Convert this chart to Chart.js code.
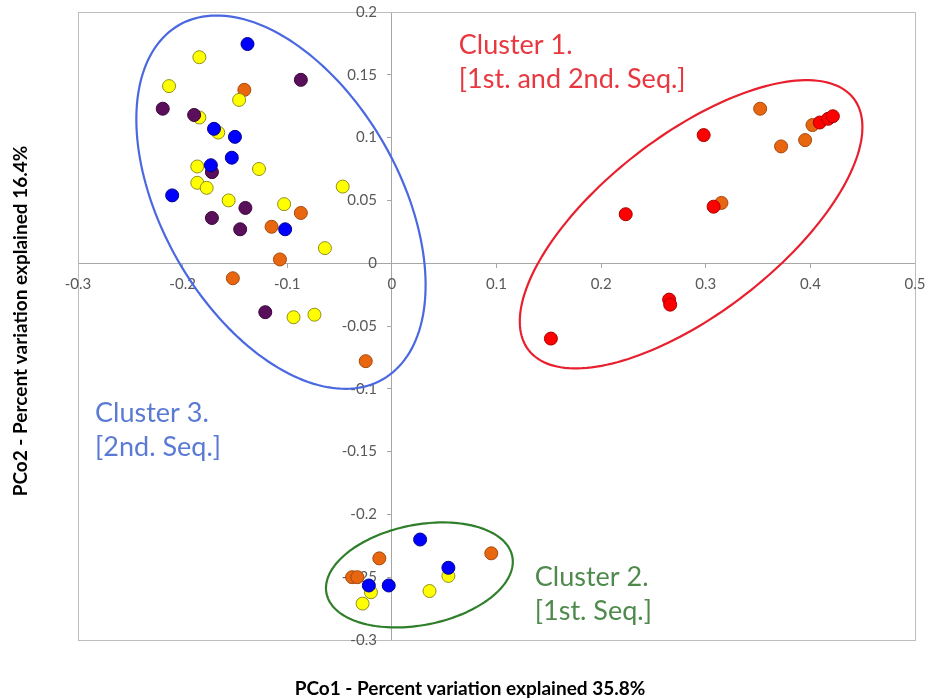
<!DOCTYPE html>
<html>
<head>
<meta charset="utf-8">
<script src="https://cdn.jsdelivr.net/npm/chart.js@4"></script>
<style>
  html, body { margin: 0; padding: 0; background: #ffffff; }
  #wrap { width: 928px; height: 700px; position: relative; }
</style>
</head>
<body>
<div id="wrap"><canvas id="pco"></canvas></div>
<script>
// PCoA scores (PCo1, PCo2) per sample group
const bluePts = [
  [-0.138, 0.1745], [-0.170, 0.107], [-0.150, 0.1006], [-0.153, 0.084],
  [-0.173, 0.078], [-0.210, 0.054], [-0.102, 0.027],
  [0.027, -0.220], [0.054, -0.2425], [-0.022, -0.2566], [-0.003, -0.2566]
];
const redPts = [
  [0.298, 0.102], [0.2235, 0.039], [0.3075, 0.045], [0.265, -0.029],
  [0.266, -0.033], [0.152, -0.060], [0.409, 0.112], [0.417, 0.115], [0.4215, 0.117]
];
const purplePts = [
  [-0.087, 0.146], [-0.219, 0.123], [-0.189, 0.118], [-0.172, 0.0725],
  [-0.140, 0.044], [-0.172, 0.036], [-0.145, 0.027], [-0.121, -0.039]
];
const yellowPts = [
  [-0.184, 0.164], [-0.213, 0.141], [-0.146, 0.130], [-0.184, 0.116],
  [-0.166, 0.104], [-0.186, 0.077], [-0.127, 0.075], [-0.186, 0.064],
  [-0.177, 0.060], [-0.047, 0.061], [-0.156, 0.050], [-0.103, 0.047],
  [-0.064, 0.012], [-0.094, -0.043], [-0.074, -0.041],
  [0.054, -0.249], [-0.020, -0.262], [0.036, -0.261], [-0.028, -0.271]
];
const orangePts = [
  [-0.141, 0.138], [-0.087, 0.040], [-0.115, 0.029], [-0.107, 0.003],
  [-0.152, -0.012], [-0.025, -0.078],
  [0.352, 0.123], [0.372, 0.093], [0.395, 0.098], [0.402, 0.110], [0.315, 0.048],
  [0.095, -0.231], [-0.012, -0.235], [-0.038, -0.250], [-0.033, -0.250]
];

// Axis ranges and tick steps
const xRange = [-0.3, 0.5];
const yRange = [-0.3, 0.2];
const xStep = 0.1;
const yStep = 0.05;

const xTitle = 'PCo1 - Percent variation explained 35.8%';
const yTitle = 'PCo2 - Percent variation explained 16.4%';

// Cluster outlines: centre and two half-axis vectors, all in data units
const clusterNames = ['Cluster 1.', 'Cluster 2.', 'Cluster 3.'];
const clusterNotes = ['[1st. and 2nd. Seq.]', '[1st. Seq.]', '[2nd. Seq.]'];
const clusterCentres = [[0.286, 0.031], [0.0263, -0.2482], [-0.106, 0.0486]];
const clusterMajor = [[0.1553, 0.1002], [0.0888, 0.01466], [0.0974, -0.1410]];
const clusterMinor = [[0.0519, -0.0559], [0.00928, -0.03916], [-0.0981, -0.0470]];
const clusterLabelAt = [[0.064, 0.1737], [0.1366, -0.2502], [-0.2837, -0.1195]];

const clusterLine = ['#e8202e', '#2f7f2a', '#4a68e0'];
const clusterText = ['#e8373f', '#4f8a4c', '#5b7ad4'];

const tickFont = '15px Lato, "Open Sans", sans-serif';
const tickColor = '#595959';

function toXY(arr) { return arr.map(p => ({ x: p[0], y: p[1] })); }

function series(pts, fill, edge) {
  return {
    data: toXY(pts),
    backgroundColor: fill,
    borderColor: edge,
    borderWidth: 1,
    pointRadius: 6.5,
    pointHoverRadius: 6.5
  };
}

const tickFmt = v => String(parseFloat(Number(v).toFixed(2)));

const frameAndNotes = {
  id: 'frameAndNotes',
  beforeDatasetsDraw(chart) {
    const { ctx, chartArea: a } = chart;
    const xs = chart.scales.x, ys = chart.scales.y;
    ctx.save();
    ctx.strokeStyle = '#bdbdbd';
    ctx.lineWidth = 1;
    ctx.strokeRect(a.left + 0.5, a.top + 0.5, a.right - a.left, a.bottom - a.top);

    // tick labels along the zero lines
    const x0 = xs.getPixelForValue(0);
    const y0 = ys.getPixelForValue(0);
    ctx.font = tickFont;
    ctx.fillStyle = tickColor;
    ctx.textAlign = 'right';
    ctx.textBaseline = 'middle';
    ys.ticks.forEach(t => ctx.fillText(tickFmt(t.value), x0 - 15, ys.getPixelForValue(t.value)));
    ctx.textAlign = 'center';
    xs.ticks.forEach(t => ctx.fillText(tickFmt(t.value), xs.getPixelForValue(t.value), y0 + 21));
    ctx.restore();
  },
  afterDatasetsDraw(chart) {
    const { ctx } = chart;
    const xs = chart.scales.x, ys = chart.scales.y;
    ctx.save();
    // cluster ellipses
    for (let i = 0; i < clusterCentres.length; i++) {
      const c = clusterCentres[i], u = clusterMajor[i], v = clusterMinor[i];
      ctx.beginPath();
      for (let k = 0; k <= 180; k++) {
        const t = (k / 180) * Math.PI * 2;
        const dx = c[0] + Math.cos(t) * u[0] + Math.sin(t) * v[0];
        const dy = c[1] + Math.cos(t) * u[1] + Math.sin(t) * v[1];
        const px = xs.getPixelForValue(dx), py = ys.getPixelForValue(dy);
        if (k === 0) ctx.moveTo(px, py); else ctx.lineTo(px, py);
      }
      ctx.closePath();
      ctx.strokeStyle = clusterLine[i];
      ctx.lineWidth = 2.2;
      ctx.stroke();
    }
    // cluster captions
    ctx.font = '27px Lato, "Open Sans", sans-serif';
    ctx.textAlign = 'left';
    ctx.textBaseline = 'middle';
    for (let i = 0; i < clusterNames.length; i++) {
      const px = xs.getPixelForValue(clusterLabelAt[i][0]);
      const py = ys.getPixelForValue(clusterLabelAt[i][1]);
      ctx.fillStyle = clusterText[i];
      ctx.fillText(clusterNames[i], px, py);
      ctx.fillText(clusterNotes[i], px, py + 34);
    }
    ctx.restore();
  },
  afterDraw(chart) {
    const { ctx } = chart;
    ctx.save();
    ctx.fillStyle = '#000000';
    ctx.font = 'bold 19px Lato, "Open Sans", sans-serif';
    ctx.textAlign = 'center';
    ctx.textBaseline = 'middle';
    ctx.fillText(xTitle, 470, 689);
    ctx.translate(21, 321);
    ctx.rotate(-Math.PI / 2);
    ctx.fillText(yTitle, 0, 0);
    ctx.restore();
  }
};

new Chart(document.getElementById('pco'), {
  type: 'scatter',
  data: {
    datasets: [
      series(bluePts, '#0000ff', '#00008a'),
      series(redPts, '#ff0000', '#a80000'),
      series(purplePts, '#5a0f5a', '#3a063a'),
      series(yellowPts, '#ffff00', '#8f8f1a'),
      series(orangePts, '#e8660f', '#a5480c')
    ]
  },
  options: {
    responsive: true,
    maintainAspectRatio: false,
    animation: false,
    layout: { padding: { left: 78, right: 13, top: 12, bottom: 60 } },
    plugins: { legend: { display: false }, tooltip: { enabled: false } },
    scales: {
      x: {
        type: 'linear',
        min: xRange[0], max: xRange[1],
        position: { y: 0 },
        border: { display: true, color: '#a6a6a6', width: 1 },
        grid: { display: true, drawOnChartArea: false, drawTicks: true, tickLength: 4, color: '#a6a6a6' },
        ticks: { display: false, stepSize: xStep, autoSkip: false }
      },
      y: {
        type: 'linear',
        min: yRange[0], max: yRange[1],
        position: { x: 0 },
        border: { display: true, color: '#a6a6a6', width: 1 },
        grid: { display: true, drawOnChartArea: false, drawTicks: true, tickLength: 4, color: '#a6a6a6' },
        ticks: { display: false, stepSize: yStep, autoSkip: false }
      }
    }
  },
  plugins: [frameAndNotes]
});
</script>
</body>
</html>
